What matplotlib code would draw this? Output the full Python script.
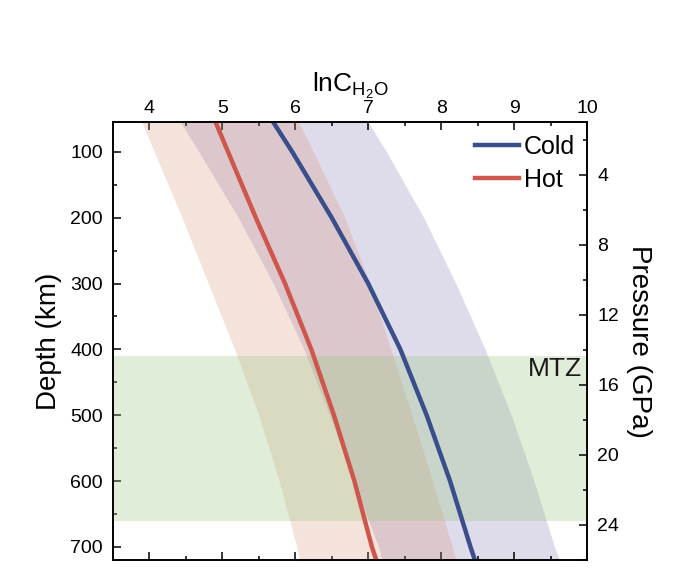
import matplotlib
matplotlib.use("Agg")
import matplotlib.pyplot as plt
from matplotlib.ticker import MultipleLocator

plt.rcParams['font.family'] = ['Liberation Sans', 'DejaVu Sans']
plt.rcParams['mathtext.fontset'] = 'custom'
plt.rcParams['mathtext.rm'] = 'Liberation Sans'

# ---- data ----
depth = [55, 100, 200, 300, 400, 500, 600, 700, 720]
cold = [5.70, 5.96, 6.50, 7.00, 7.44, 7.80, 8.12, 8.40, 8.46]
cold_low = [4.43, 4.68, 5.22, 5.70, 6.12, 6.47, 6.80, 7.14, 7.19]
cold_high = [7.00, 7.25, 7.76, 8.20, 8.60, 8.96, 9.27, 9.55, 9.62]
hot = [4.91, 5.08, 5.46, 5.86, 6.22, 6.53, 6.81, 7.05, 7.11]
hot_low = [3.90, 4.07, 4.45, 4.81, 5.17, 5.50, 5.78, 6.02, 6.06]
hot_high = [6.05, 6.25, 6.68, 7.02, 7.31, 7.60, 7.88, 8.15, 8.20]
mtz_top, mtz_bottom = 410, 660
depth_ticks = [100, 200, 300, 400, 500, 600, 700]
x_ticks = [4, 5, 6, 7, 8, 9, 10]
pressure_ticks = [4, 8, 12, 16, 20, 24]

fig = plt.figure(figsize=(7.0, 5.88), dpi=100)
ax = fig.add_axes([0.161, 0.0476, 0.678, 0.7444])

c_cold = '#3b4e8c'
c_hot = '#cf564c'

ax.fill_betweenx(depth, cold_low, cold_high, color='#7f73af', alpha=0.25, lw=0, zorder=1)
ax.fill_betweenx(depth, hot_low, hot_high, color='#d9987c', alpha=0.27, lw=0, zorder=2)
ax.axhspan(mtz_top, mtz_bottom, color='#9bc684', alpha=0.3, lw=0, zorder=3)
ax.plot(cold, depth, color=c_cold, lw=3.2, label='Cold', zorder=5, solid_joinstyle='round')
ax.plot(hot, depth, color=c_hot, lw=3.2, label='Hot', zorder=5, solid_joinstyle='round')

ax.set_xlim(3.5, 10)
ax.set_ylim(720, 55)
ax.set_xticks(x_ticks)
ax.xaxis.set_minor_locator(MultipleLocator(0.5))
ax.set_yticks(depth_ticks)
ax.yaxis.set_minor_locator(MultipleLocator(50))
ax.tick_params(which='both', direction='in', top=True, bottom=True, labeltop=True,
               labelbottom=False, left=True, right=False, labelsize=14, width=1.1)
ax.tick_params(axis='x', which='major', length=6, pad=4)
ax.tick_params(axis='x', which='minor', length=3)
ax.tick_params(axis='y', which='major', length=6, pad=7)
ax.tick_params(axis='y', which='minor', length=3)
for s in ax.spines.values():
    s.set_linewidth(1.2)

ax.xaxis.set_label_position('top')
ax.set_xlabel(r'lnC$_{\mathregular{H_2O}}$', fontsize=19, labelpad=6)
ax.set_ylabel('Depth (km)', fontsize=20, labelpad=6)

ax.text(9.93, 430, 'MTZ', fontsize=19, ha='right', va='center', color='#1a1a1a', zorder=6)

leg = ax.legend(loc='upper left', bbox_to_anchor=(0.763, 0.972), frameon=False,
                fontsize=18, handlelength=1.75, handletextpad=0.2, labelspacing=0.36,
                borderpad=0, borderaxespad=0)

ax2 = ax.twinx()
ax2.set_ylim(26, 1)
ax2.set_yticks(pressure_ticks)
ax2.yaxis.set_minor_locator(MultipleLocator(2))
ax2.tick_params(which='both', direction='in', labelsize=14, width=1.1)
ax2.tick_params(which='major', length=6, pad=7)
ax2.tick_params(which='minor', length=3)
ax2.set_ylabel('Pressure (GPa)', fontsize=20, rotation=270, labelpad=24)
for s in ax2.spines.values():
    s.set_linewidth(1.2)

fig.savefig('out.png', dpi=100)
